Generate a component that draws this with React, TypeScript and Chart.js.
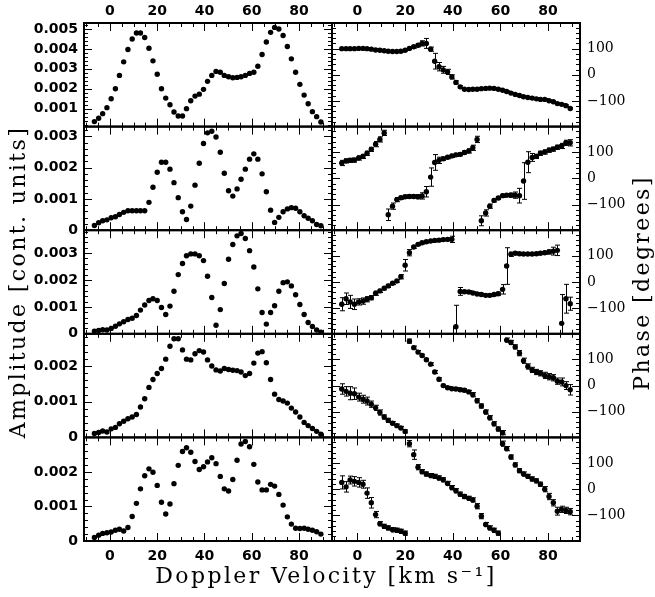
import React, { useEffect, useRef } from "react";
import { Chart, registerables } from "chart.js";

Chart.register(...registerables);

// Doppler velocity channels (km/s)
const VELOCITY = [
  -6.6, -4.8, -3.1, -1.3, 0.5, 2.3, 4.0, 5.8, 7.6, 9.4,
  11.2, 12.9, 14.7, 16.5, 18.2, 20.0, 21.8, 23.6, 25.4, 27.1,
  28.9, 30.7, 32.4, 34.2, 36.0, 37.8, 39.6, 41.3, 43.1, 44.9,
  46.7, 48.4, 50.2, 52.0, 53.8, 55.5, 57.3, 59.1, 60.9, 62.6,
  64.4, 66.2, 68.0, 69.7, 71.5, 73.3, 75.1, 76.8, 78.6, 80.4,
  82.2, 83.9, 85.7, 87.5, 89.3,
];

// Amplitude [cont. units], rows 1..5
const AMPLITUDE_1 = [
  0.00035, 0.00052, 0.00075, 0.00105, 0.0015, 0.002, 0.00267, 0.00335, 0.00397, 0.0045,
  0.0048, 0.0048, 0.00457, 0.00403, 0.0034, 0.00273, 0.002, 0.00153, 0.0012, 0.00083,
  0.00063, 0.00063, 0.001, 0.0014, 0.00163, 0.00173, 0.00197, 0.00237, 0.00267, 0.00287,
  0.00283, 0.00267, 0.0026, 0.00255, 0.00257, 0.0026, 0.00267, 0.00277, 0.00283, 0.00313,
  0.00372, 0.00435, 0.00483, 0.00508, 0.005, 0.00467, 0.00412, 0.0035, 0.00283, 0.00222,
  0.00168, 0.00125, 0.00085, 0.0006, 0.00033,
];
const AMPLITUDE_2 = [
  0.00015, 0.00024, 0.0003, 0.00033, 0.0004, 0.00043, 0.0005, 0.00057, 0.00062, 0.00062,
  0.00062, 0.00062, 0.00062, 0.00089, 0.00137, 0.00185, 0.00217, 0.00217, 0.00195, 0.00152,
  0.00104, 0.00059, 0.00034, 0.00077, 0.00144, 0.00214, 0.00277, 0.00311, 0.00316, 0.00298,
  0.00249, 0.00182, 0.00126, 0.00109, 0.00132, 0.00163, 0.00195, 0.00227, 0.00244, 0.00227,
  0.0018, 0.00123, 0.00064, 0.00025, 0.00041, 0.00059, 0.00068, 0.00072, 0.0007, 0.00059,
  0.00046, 0.00038, 0.0003, 0.00018, 0.00014,
];
const AMPLITUDE_3 = [
  0.0001, 0.00012, 0.00015, 0.00014, 0.0002, 0.00028, 0.00037, 0.00045, 0.00053, 0.00058,
  0.00068, 0.00088, 0.00107, 0.00124, 0.0013, 0.00124, 0.00098, 0.00072, 0.00103, 0.00158,
  0.0022, 0.00261, 0.0029, 0.00297, 0.00297, 0.0029, 0.00272, 0.00214, 0.00135, 0.00032,
  0.0009, 0.00187, 0.00277, 0.00332, 0.00364, 0.00373, 0.00354, 0.00309, 0.00248, 0.00167,
  0.00079, 0.00036, 0.00079, 0.00104, 0.00158, 0.0019, 0.00193, 0.00178, 0.00145, 0.00109,
  0.00072, 0.00042, 0.00027, 0.00014, 0.00006,
];
const AMPLITUDE_4 = [
  0.00011, 0.00014, 0.00018, 0.00015, 0.00024, 0.00028, 0.00038, 0.00045, 0.00052, 0.00057,
  0.00064, 0.00085, 0.00108, 0.0014, 0.00162, 0.00179, 0.00193, 0.00219, 0.00255, 0.00276,
  0.00276, 0.00245, 0.00219, 0.00217, 0.00234, 0.00243, 0.00239, 0.00217, 0.002, 0.00189,
  0.00186, 0.00193, 0.0019, 0.00188, 0.00187, 0.00183, 0.00173, 0.00179, 0.00208, 0.00236,
  0.0024, 0.00209, 0.00162, 0.00121, 0.00106, 0.00102, 0.00096, 0.00082, 0.00071, 0.00057,
  0.00042, 0.00033, 0.00025, 0.00017, 0.00009,
];
const AMPLITUDE_5 = [
  0.0001, 0.00017, 0.00022, 0.00024, 0.00026, 0.00031, 0.00034, 0.00029, 0.00039, 0.00071,
  0.00109, 0.00151, 0.00189, 0.00209, 0.00199, 0.00161, 0.00112, 0.00078, 0.00107, 0.00166,
  0.00219, 0.00259, 0.0027, 0.00257, 0.0023, 0.00207, 0.00215, 0.00229, 0.00241, 0.00224,
  0.00187, 0.00151, 0.00145, 0.00178, 0.00234, 0.00281, 0.00288, 0.00273, 0.00222, 0.00171,
  0.00148, 0.00148, 0.00164, 0.00159, 0.00135, 0.00104, 0.0007, 0.00049, 0.00037, 0.00036,
  0.00037, 0.00034, 0.00031, 0.00027, 0.0002,
];

// Phase [degrees], rows 1..5, with errors
const PHASE_1 = [
  100, 100, 100, 100, 101, 101, 100, 98, 95, 94,
  92, 90, 89, 89, 90, 94, 101, 107, 113, 120,
  120, 98, 52, 31, 19, 11, -8, -29, -46, -55,
  -56, -55, -55, -53, -52, -51, -52, -55, -59, -64,
  -70, -75, -79, -84, -87, -89, -92, -94, -94, -99,
  -103, -110, -113, -118, -129,
];
const PHASE_ERR_1 = [
  3, 3, 3, 3, 3, 3, 3, 3, 3, 3,
  3, 3, 3, 3, 3, 3, 4, 5, 6, 10,
  19, 8, 30, 16, 13, 10, 8, 6, 4, 3,
  3, 3, 3, 3, 3, 3, 3, 3, 3, 3,
  3, 3, 3, 3, 3, 3, 3, 3, 3, 3,
  3, 3, 3, 3, 3,
];
const PHASE_2 = [
  59, 67, 69, 70, 78, 84, 96, 111, 131, 149,
  174, -139, -106, -81, -74, -70, -69, -69, -70, -67,
  -51, 5, 61, 69, 75, 81, 86, 90, 92, 99,
  105, 117, 149, -162, -132, -106, -84, -75, -66, -64,
  -64, -64, -66, -10, 62, 80, 84, 96, 101, 108,
  112, 119, 124, 136, 136,
];
const PHASE_ERR_2 = [
  10, 8, 8, 8, 8, 8, 8, 8, 10, 10,
  10, 22, 12, 8, 6, 6, 6, 6, 8, 12,
  20, 35, 30, 12, 6, 6, 6, 6, 6, 6,
  8, 10, 12, 19, 12, 8, 6, 6, 6, 6,
  8, 12, 28, 70, 40, 15, 8, 8, 8, 8,
  8, 8, 10, 10, 12,
];
const PHASE_3 = [
  -85, -64, -76, -85, -76, -73, -66, -60, -43, -34,
  -24, -15, -5, 4, 20, 64, 112, 134, 144, 150,
  154, 157, 159, 160, 162, 163, 163, -171, -36, -37,
  -38, -42, -46, -48, -51, -51, -48, -45, -28, 61,
  106, 110, 108, 107, 107, 107, 108, 110, 112, 115,
  118, 121, -158, -64, -83,
];
const PHASE_ERR_3 = [
  25, 22, 25, 20, 12, 12, 10, 8, 8, 6,
  6, 6, 5, 5, 8, 22, 12, 5, 5, 5,
  5, 5, 5, 5, 5, 6, 12, 82, 15, 5,
  5, 5, 5, 5, 5, 5, 5, 6, 18, 70,
  8, 5, 5, 5, 5, 5, 5, 5, 6, 8,
  15, 20, 110, 55, 25,
];
const PHASE_4 = [
  -13, -22, -29, -31, -44, -52, -59, -71, -85, -103,
  -120, -133, -144, -153, -162, -175, 170, 145, 128, 115,
  99, 82, 52, 24, 0, -8, -12, -13, -16, -18,
  -24, -35, -58, -78, -101, -123, -146, -166, -180, 174,
  165, 148, 124, 95, 73, 60, 52, 47, 39, 34,
  30, 17, 14, 0, -16,
];
const PHASE_ERR_4 = [
  20, 18, 25, 22, 15, 15, 15, 12, 10, 10,
  8, 8, 6, 6, 6, 6, 8, 6, 6, 5,
  5, 5, 6, 6, 5, 5, 5, 5, 6, 6,
  6, 8, 8, 8, 8, 8, 8, 8, 8, 8,
  8, 8, 10, 10, 10, 10, 10, 10, 12, 12,
  12, 12, 15, 15, 20,
];
const PHASE_5 = [
  26, 9, 35, 30, 26, 19, -15, -52, -97, -132,
  -142, -148, -155, -157, -161, -168, 174, 132, 84, 67,
  58, 52, 49, 43, 36, 22, 6, -6, -19, -28,
  -35, -41, -65, -103, -135, -148, -157, -168, 174, 155,
  123, 93, 71, 58, 49, 39, 32, 19, 0, -28,
  -52, -84, -77, -81, -86,
];
const PHASE_ERR_5 = [
  25, 20, 15, 18, 18, 15, 20, 20, 12, 8,
  8, 8, 8, 8, 8, 8, 12, 18, 10, 8,
  8, 8, 8, 8, 8, 8, 8, 8, 8, 8,
  8, 8, 10, 10, 8, 8, 8, 8, 10, 8,
  8, 8, 8, 8, 8, 8, 8, 8, 10, 12,
  12, 15, 12, 12, 12,
];

const VELOCITY_TICKS = [0, 20, 40, 60, 80];
const AMPLITUDE_TICKS_1 = [0.001, 0.002, 0.003, 0.004, 0.005];
const AMPLITUDE_TICKS_2 = [0, 0.001, 0.002, 0.003];
const AMPLITUDE_TICKS_3 = [0, 0.001, 0.002, 0.003];
const AMPLITUDE_TICKS_4 = [0, 0.001, 0.002];
const AMPLITUDE_TICKS_5 = [0, 0.001, 0.002];
const PHASE_TICKS = [-100, 0, 100];

const AMPLITUDE_TITLE = "Amplitude [cont. units]";
const PHASE_TITLE = "Phase [degrees]";
const VELOCITY_TITLE = "Doppler Velocity [km s\u207B\u00B9]";

const AMPLITUDES = [AMPLITUDE_1, AMPLITUDE_2, AMPLITUDE_3, AMPLITUDE_4, AMPLITUDE_5];
const PHASES = [PHASE_1, PHASE_2, PHASE_3, PHASE_4, PHASE_5];
const PHASE_ERRS = [PHASE_ERR_1, PHASE_ERR_2, PHASE_ERR_3, PHASE_ERR_4, PHASE_ERR_5];
const AMPLITUDE_TICKS = [AMPLITUDE_TICKS_1, AMPLITUDE_TICKS_2, AMPLITUDE_TICKS_3, AMPLITUDE_TICKS_4, AMPLITUDE_TICKS_5];
const AMPLITUDE_LIMITS = [
  [0.0001, 0.0053],
  [0, 0.00331],
  [0, 0.00385],
  [0, 0.0029],
  [0, 0.003],
];
const PHASE_LIMITS = [-198, 198];
const VEL_LIMITS_LEFT = [-11, 94];
const VEL_LIMITS_RIGHT = [-10.7, 93.4];

const SANS = "'DejaVu Sans', sans-serif";
const SERIF = "'DejaVu Serif', serif";

function drawTitle(ctx: any, text: string, x: number, y: number, rot: number) {
  ctx.save();
  ctx.fillStyle = "#000";
  ctx.font = `22px ${SERIF}`;
  ctx.textAlign = "center";
  ctx.textBaseline = "middle";
  try {
    ctx.letterSpacing = "2.4px";
  } catch (e) {}
  ctx.translate(x, y);
  if (rot) ctx.rotate(rot);
  ctx.fillText(text, 0, 0);
  ctx.restore();
}

const frameTicksPlugin = {
  id: "frameTicks",
  afterDatasetsDraw(chart: any) {
    const ctx = chart.ctx;
    ctx.save();
    ctx.strokeStyle = "#000";
    ctx.lineWidth = 1;
    chart.data.datasets.forEach((ds: any) => {
      if (ds.errIndex === undefined) return;
      const xs = chart.scales[ds.xAxisID];
      const ys = chart.scales[ds.yAxisID];
      const errs = PHASE_ERRS[ds.errIndex];
      const vals = PHASES[ds.errIndex];
      ctx.save();
      ctx.beginPath();
      ctx.rect(xs.left, ys.top, xs.right - xs.left, ys.bottom - ys.top);
      ctx.clip();
      ctx.beginPath();
      for (let i = 0; i < VELOCITY.length; i++) {
        const px = Math.round(xs.getPixelForValue(VELOCITY[i])) + 0.5;
        const y1 = ys.getPixelForValue(vals[i] - errs[i]);
        const y2 = ys.getPixelForValue(vals[i] + errs[i]);
        ctx.moveTo(px, y1);
        ctx.lineTo(px, y2);
        ctx.moveTo(px - 2.5, y1);
        ctx.lineTo(px + 2.5, y1);
        ctx.moveTo(px - 2.5, y2);
        ctx.lineTo(px + 2.5, y2);
      }
      ctx.stroke();
      ctx.restore();
    });
    ctx.restore();
  },
  afterDraw(chart: any) {
    const ctx = chart.ctx;
    ctx.save();
    ctx.strokeStyle = "#000";
    for (let r = 0; r < 5; r++) {
      for (let c = 0; c < 2; c++) {
        const xs = chart.scales[c ? "xR" : "xL"];
        const ys = chart.scales[(c ? "yR" : "yL") + (r + 1)];
        const L = xs.left, R = xs.right, T = ys.top, B = ys.bottom;
        ctx.lineWidth = 1;
        ctx.beginPath();
        for (let k = Math.ceil(xs.min / 5); k * 5 <= xs.max; k++) {
          const v = k * 5;
          const px = Math.round(xs.getPixelForValue(v)) + 0.5;
          const len = v % 20 === 0 ? 8 : 4;
          ctx.moveTo(px, T);
          ctx.lineTo(px, T + len);
          ctx.moveTo(px, B);
          ctx.lineTo(px, B - len);
        }
        const step = c ? 20 : 0.0002;
        for (let k = Math.ceil(ys.min / step - 1e-6); k * step <= ys.max + 1e-9; k++) {
          const py = Math.round(ys.getPixelForValue(k * step)) + 0.5;
          const len = k % 5 === 0 ? 8 : 4;
          ctx.moveTo(L, py);
          ctx.lineTo(L + len, py);
          ctx.moveTo(R, py);
          ctx.lineTo(R - len, py);
        }
        ctx.stroke();
        ctx.lineWidth = 2;
        ctx.strokeRect(L, T, R - L, B - T);
      }
    }
    ctx.restore();
    const yMid = chart.scales.yL3;
    const cy = (yMid.top + yMid.bottom) / 2;
    drawTitle(ctx, AMPLITUDE_TITLE, 19, cy, -Math.PI / 2);
    drawTitle(ctx, PHASE_TITLE, 643, cy + 1, -Math.PI / 2);
    drawTitle(ctx, VELOCITY_TITLE, 326, 577, 0);
  },
};

function xAxis(position: string, weight: number, limits: number[], stack: string, size: number, pad: number) {
  return {
    type: "linear",
    position,
    stack,
    weight,
    min: limits[0],
    max: limits[1],
    bounds: "data",
    grid: { display: false, drawTicks: false },
    border: { display: false },
    ticks: {
      autoSkip: false,
      maxRotation: 0,
      padding: pad,
      color: "#000",
      font: { family: SANS, size: 14, weight: "bold" },
      callback: (v: number) => String(v),
    },
    afterBuildTicks: (s: any) => {
      s.ticks = VELOCITY_TICKS.map((v) => ({ value: v }));
    },
    afterFit: (s: any) => {
      s.height = size;
    },
  };
}

export default function App() {
  const ref = useRef<HTMLCanvasElement | null>(null);
  useEffect(() => {
    if (!ref.current) return;
    const scales: any = {
      xL: xAxis("bottom", 1, VEL_LIMITS_LEFT, "velB", 20.4, 7),
      xR: xAxis("bottom", 2, VEL_LIMITS_RIGHT, "velB", 20.4, 7),
      xLt: xAxis("top", 2, VEL_LIMITS_LEFT, "velT", 23, 3),
      xRt: xAxis("top", 1, VEL_LIMITS_RIGHT, "velT", 23, 3),
    };
    const datasets: any[] = [];
    for (let r = 0; r < 5; r++) {
      const ticksA = AMPLITUDE_TICKS[r];
      scales["yL" + (r + 1)] = {
        type: "linear",
        position: "left",
        stack: "amp",
        weight: 5 - r,
        min: AMPLITUDE_LIMITS[r][0],
        max: AMPLITUDE_LIMITS[r][1],
        bounds: "data",
        grid: { display: false, drawTicks: false },
        border: { display: false },
        ticks: {
          autoSkip: false,
          padding: 6,
          color: "#000",
          font: { family: SANS, size: 14, weight: "bold" },
          callback: (v: number) => (v === 0 ? "0" : v.toFixed(3)),
        },
        afterBuildTicks: (s: any) => {
          s.ticks = ticksA.map((v) => ({ value: v }));
        },
        afterFit: (s: any) => {
          s.width = 84;
        },
      };
      scales["yR" + (r + 1)] = {
        type: "linear",
        position: "right",
        stack: "pha",
        weight: r + 1,
        min: PHASE_LIMITS[0],
        max: PHASE_LIMITS[1],
        bounds: "data",
        grid: { display: false, drawTicks: false },
        border: { display: false },
        ticks: {
          autoSkip: false,
          padding: 7,
          crossAlign: "near",
          color: "#000",
          font: { family: SERIF, size: 14 },
          callback: (v: number) => (v < 0 ? "\u2212" + Math.abs(v) : String(v)),
        },
        afterBuildTicks: (s: any) => {
          s.ticks = PHASE_TICKS.map((v) => ({ value: v }));
        },
        afterFit: (s: any) => {
          s.width = 75;
        },
      };
      datasets.push({
        label: "Amplitude " + (r + 1),
        xAxisID: "xL",
        yAxisID: "yL" + (r + 1),
        data: VELOCITY.map((v, i) => ({ x: v, y: AMPLITUDES[r][i] })),
        pointRadius: 2.7,
        pointBackgroundColor: "#000",
        pointBorderWidth: 0,
        borderColor: "#000",
        showLine: false,
      });
      datasets.push({
        label: "Phase " + (r + 1),
        xAxisID: "xR",
        yAxisID: "yR" + (r + 1),
        errIndex: r,
        data: VELOCITY.map((v, i) => ({ x: v, y: PHASES[r][i] })),
        pointRadius: 2.7,
        pointBackgroundColor: "#000",
        pointBorderWidth: 0,
        borderColor: "#000",
        showLine: false,
      });
    }
    const chart = new Chart(ref.current, {
      type: "scatter",
      data: { datasets },
      options: {
        responsive: false,
        animation: false,
        devicePixelRatio: 1,
        events: [],
        layout: { padding: { left: 0, right: 0, top: 0, bottom: 35.6 } },
        scales,
        plugins: {
          legend: { display: false },
          tooltip: { enabled: false },
          title: { display: false },
        },
      } as any,
      plugins: [frameTicksPlugin],
    });
    return () => chart.destroy();
  }, []);
  return (
    <div style={{ position: "absolute", left: 0, top: 0, width: 655, height: 597, background: "#fff" }}>
      <canvas ref={ref} width={655} height={597} style={{ width: 655, height: 597, display: "block" }} />
    </div>
  );
}
